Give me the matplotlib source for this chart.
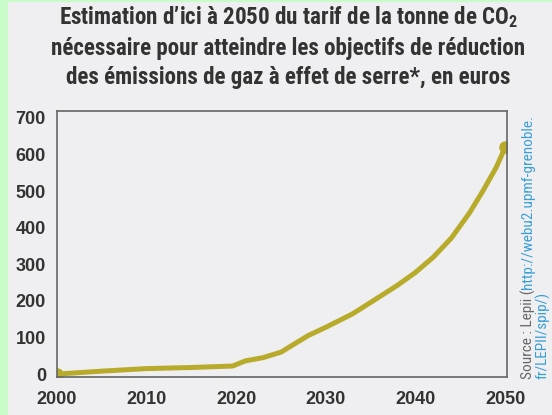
import matplotlib
matplotlib.use("Agg")
import matplotlib.pyplot as plt
from matplotlib.patches import Rectangle

# -------------------------------------------------
# Data
# -------------------------------------------------
years = [2000, 2005, 2010, 2015, 2019.6, 2021, 2023, 2025, 2028, 2030, 2033, 2035, 2038, 2040,
         2042, 2044, 2046, 2047.5, 2049, 2050]
prices = [0, 8, 15, 18, 22, 36, 45, 60, 105, 128, 165, 196, 243, 278, 320, 372, 440, 500, 565, 620]
xticks = [2000, 2010, 2020, 2030, 2040, 2050]
yticks = [0, 100, 200, 300, 400, 500, 600, 700]

title = ("Estimation d\u2019ici à 2050 du tarif de la tonne de CO$_2$\n"
         "nécessaire pour atteindre les objectifs de réduction\n"
         "des émissions de gaz à effet de serre*, en euros")

line_color = "#b8ab2c"
text_color = "#333333"
cond = "Roboto Condensed"

fig = plt.figure(figsize=(5.52, 4.15), dpi=100)
fig.patch.set_facecolor("#c9fbc9")
fig.patches.append(Rectangle((8 / 552, 0), 1, 1 - 2 / 415, transform=fig.transFigure,
                             facecolor="#efeff1", edgecolor="none", zorder=-1))

plt.rcParams["mathtext.fontset"] = "custom"
plt.rcParams["mathtext.rm"] = cond + ":bold"
plt.rcParams["mathtext.bf"] = cond + ":bold"

fig.text(0.522, 0.99, title, ha="center", va="top", fontsize=16.6, fontweight="bold",
         family=cond, color=text_color, linespacing=1.36)

ax = fig.add_axes([57 / 552, 38 / 415, 450 / 552, 266 / 415], zorder=2)
ax.set_facecolor("#efeff1")
ax.plot(years, prices, color=line_color, lw=3.6, solid_capstyle="round", solid_joinstyle="round")
ax.plot([years[0], years[-1]], [prices[0], prices[-1]], "o", color=line_color, ms=8)

ax.set_xlim(2000, 2050.2)
ax.set_ylim(-8, 719)
ax.set_xticks(xticks)
ax.set_yticks(yticks)
ax.tick_params(length=0, labelsize=13, labelcolor=text_color)
ax.tick_params(axis="x", pad=10)
ax.tick_params(axis="y", pad=8)
for lab in ax.get_xticklabels() + ax.get_yticklabels():
    lab.set_fontweight("bold")
    lab.set_family("Liberation Sans")
for sp in ax.spines.values():
    sp.set_color("#666666")
    sp.set_linewidth(1.2)

# -------------------------------------------------
# Rotated source text, two colours
# -------------------------------------------------
fig.canvas.draw()
r = fig.canvas.get_renderer()
x1, x2, y0 = 528 / 552, 543 / 552, 36 / 415
t1 = fig.text(x1, y0, "Source : Lepii (", rotation=90, ha="center", va="bottom",
              fontsize=11, color="#666666", family=cond)
bb = t1.get_window_extent(r)
fig.text(x1, bb.y1 / fig.bbox.height, "http://webu2.upmf-grenoble.", rotation=90,
         ha="center", va="bottom", fontsize=11, color="#3a9fd4", family=cond)
fig.text(x2, y0, "fr/LEPII/spip/)", rotation=90, ha="center", va="bottom",
         fontsize=11, color="#3a9fd4", family=cond)

fig.savefig("out.png", dpi=100, facecolor=fig.get_facecolor())
